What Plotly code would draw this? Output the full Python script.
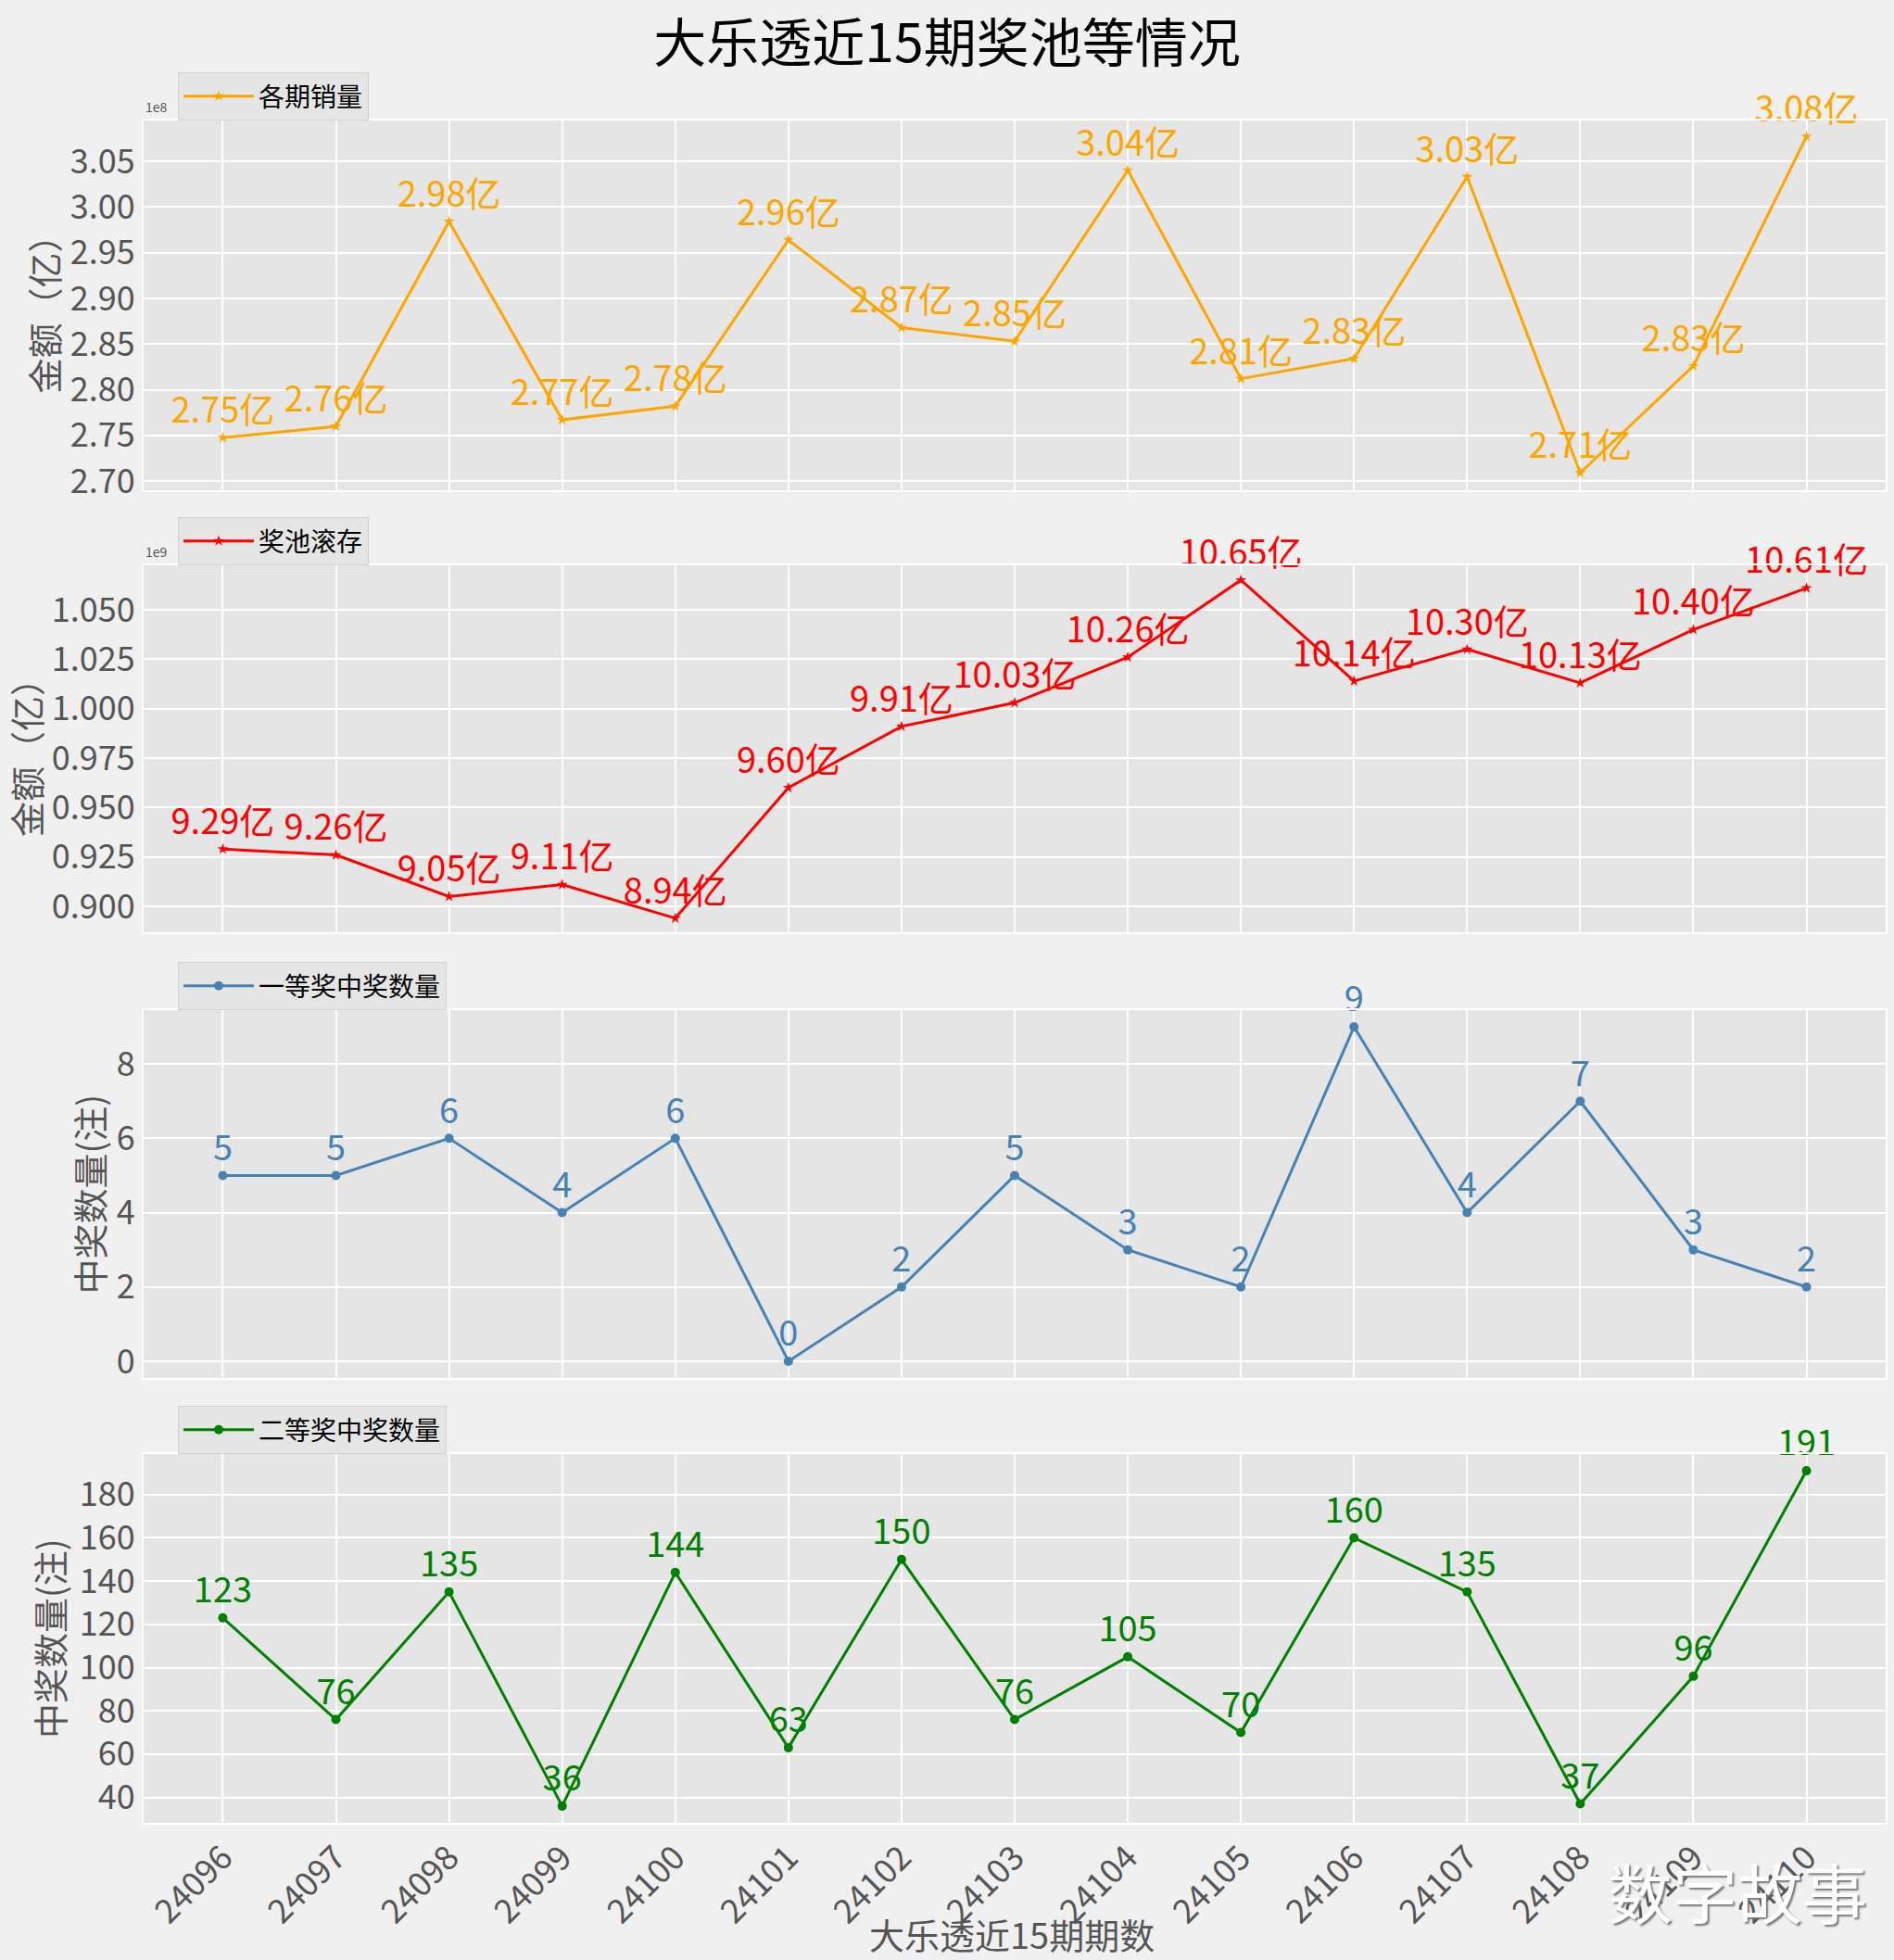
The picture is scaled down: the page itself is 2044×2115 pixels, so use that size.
import plotly.graph_objects as go

periods = ["24096", "24097", "24098", "24099", "24100", "24101", "24102", "24103",
           "24104", "24105", "24106", "24107", "24108", "24109", "24110"]
sales = [274750000, 276000000, 298400000, 276700000, 278200000, 296400000, 286800000,
         285300000, 304000000, 281200000, 283400000, 303300000, 270900000, 282600000,
         307700000]
pool = [929000000, 926000000, 905000000, 911000000, 894000000, 960000000, 991000000,
        1003000000, 1026000000, 1065000000, 1014000000, 1030000000, 1013000000,
        1040000000, 1061000000]
first_prize = [5, 5, 6, 4, 6, 0, 2, 5, 3, 2, 9, 4, 7, 3, 2]
second_prize = [123, 76, 135, 36, 144, 63, 150, 76, 105, 70, 160, 135, 37, 96, 191]

sales_ticks = [2.70, 2.75, 2.80, 2.85, 2.90, 2.95, 3.00, 3.05]
pool_ticks = [0.900, 0.925, 0.950, 0.975, 1.000, 1.025, 1.050]
first_ticks = [0, 2, 4, 6, 8]
second_ticks = [40, 60, 80, 100, 120, 140, 160, 180]

W, H = 2044, 2115
FONT = "Noto Sans CJK SC"
TICKC = "#555555"

def px(x):
    return x / W

def py(y):
    return 1 - y / H

panels = [  # (top, bottom) in pixels
    (130, 529), (610, 1006), (1090, 1487), (1569, 1967)
]
xdom = [px(155), px(2035)]

fig = go.Figure()

series = [
    dict(y=sales, name="各期销量", color="#FFA500", symbol="star", msize=9,
         text=[f"{v/1e8:.2f}亿" for v in sales]),
    dict(y=pool, name="奖池滚存", color="#FF0000", symbol="star", msize=9,
         text=[f"{v/1e8:.2f}亿" for v in pool]),
    dict(y=first_prize, name="一等奖中奖数量", color="#4682B4", symbol="circle", msize=10,
         text=[str(v) for v in first_prize]),
    dict(y=second_prize, name="二等奖中奖数量", color="#008000", symbol="circle", msize=10,
         text=[str(v) for v in second_prize]),
]

for i, s in enumerate(series):
    n = i + 1
    xa = "x" if n == 1 else f"x{n}"
    ya = "y" if n == 1 else f"y{n}"
    leg = "legend" if n == 1 else f"legend{n}"
    fig.add_trace(go.Scatter(
        x=periods, y=s["y"], name=s["name"], mode="lines+markers+text",
        line=dict(color=s["color"], width=3),
        marker=dict(symbol=s["symbol"], size=s["msize"], color=s["color"]),
        text=s["text"], textposition="top center",
        textfont=dict(family=FONT, size=38, color=s["color"]),
        cliponaxis=False, xaxis=xa, yaxis=ya, legend=leg, showlegend=True,
    ))

yranges = [
    [2.69e8, 3.0946e8],
    [0.8869e9, 1.0725e9],
    [-0.45, 9.45],
    [28.25, 198.75],
]
ytickvals = [
    [v * 1e8 for v in sales_ticks],
    [v * 1e9 for v in pool_ticks],
    first_ticks,
    second_ticks,
]
yticktext = [
    [f"{v:.2f}" for v in sales_ticks],
    [f"{v:.3f}" for v in pool_ticks],
    [str(v) for v in first_ticks],
    [str(v) for v in second_ticks],
]

layout = dict(
    width=W, height=H, autosize=False,
    margin=dict(l=0, r=0, t=0, b=0),
    paper_bgcolor="#F0F0F0", plot_bgcolor="#E5E5E5",
    font=dict(family=FONT, color=TICKC),
    title=dict(text="大乐透近15期奖池等情况", x=0.5, xanchor="center",
               y=py(47), yanchor="middle",
               font=dict(family=FONT, size=57, color="#000000")),
)

for i in range(4):
    n = i + 1
    top, bot = panels[i]
    xkey = "xaxis" if n == 1 else f"xaxis{n}"
    ykey = "yaxis" if n == 1 else f"yaxis{n}"
    ya = "y" if n == 1 else f"y{n}"
    layout[xkey] = dict(
        domain=xdom, anchor=ya, type="category",
        categoryorder="array", categoryarray=periods,
        range=[-0.7, 14.7], showgrid=True, gridcolor="#FFFFFF", gridwidth=2,
        showline=True, linecolor="#FFFFFF", linewidth=2, mirror=True,
        zeroline=False, automargin=False, ticks="",
        showticklabels=(n == 4), tickangle=-45,
        tickfont=dict(family=FONT, size=36, color=TICKC),
    )
    if n != 4:
        layout[xkey]["matches"] = "x4"
    layout[ykey] = dict(
        domain=[py(bot), py(top)], anchor="x" if n == 1 else f"x{n}",
        range=yranges[i], tickvals=ytickvals[i], ticktext=yticktext[i],
        showgrid=True, gridcolor="#FFFFFF", gridwidth=2,
        showline=True, linecolor="#FFFFFF", linewidth=2, mirror=True,
        zeroline=False, automargin=False, ticks="",
        tickfont=dict(family=FONT, size=36, color=TICKC),
    )
    lkey = "legend" if n == 1 else f"legend{n}"
    layout[lkey] = dict(
        x=px(192), xanchor="left", y=py(top), yanchor="bottom",
        bgcolor="#E5E5E5", bordercolor="#D0D0D0", borderwidth=1,
        itemwidth=76,
        font=dict(family=FONT, size=28, color="#000000"),
    )

fig.update_layout(**layout)

# y-axis titles
ytitles = [("金额（亿）", 46), ("金额（亿）", 27), ("中奖数量(注)", 95), ("中奖数量(注)", 52)]
for i, (t, xc) in enumerate(ytitles):
    top, bot = panels[i]
    fig.add_annotation(text=t, x=px(xc), y=py((top + bot) / 2), xref="paper", yref="paper",
                       textangle=-90, showarrow=False, xanchor="center", yanchor="middle",
                       font=dict(family=FONT, size=38, color=TICKC))

# offset texts
for txt, top in [("1e8", panels[0][0]), ("1e9", panels[1][0])]:
    fig.add_annotation(text=txt, x=px(155), y=py(top - 3), xref="paper", yref="paper",
                       showarrow=False, xanchor="left", yanchor="bottom",
                       font=dict(family=FONT, size=14, color=TICKC))

# x-axis title
fig.add_annotation(text="大乐透近15期期数", x=px(1092), y=py(2086), xref="paper", yref="paper",
                   showarrow=False, xanchor="center", yanchor="middle",
                   font=dict(family=FONT, size=38, color=TICKC))

# watermark
fig.add_annotation(text="数字故事", x=px(1875), y=py(2040), xref="paper", yref="paper",
                   showarrow=False, xanchor="center", yanchor="middle",
                   font=dict(family=FONT, size=70, color="#FFFFFF",
                             shadow="2px 2px 2px #777777"))

fig.write_html("out.html", config={"displayModeBar": False},
               post_script="document.body.style.margin='0';")
